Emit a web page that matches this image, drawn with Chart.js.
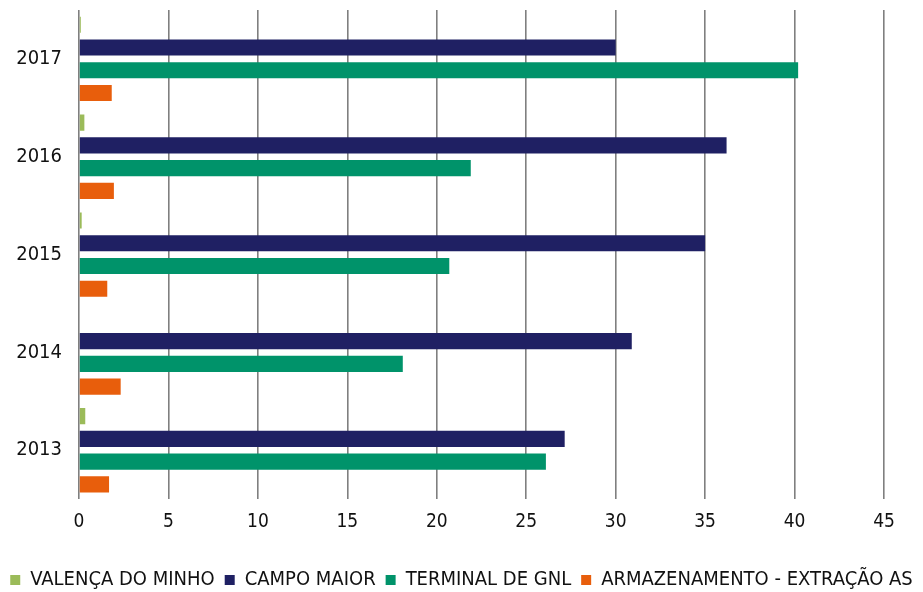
<!DOCTYPE html>
<html>
<head>
<meta charset="utf-8">
<script src="https://cdn.jsdelivr.net/npm/chart.js@4"></script>
<style>
  html, body { margin: 0; padding: 0; background: #fff; }
  #wrap { width: 923px; height: 592px; }
</style>
</head>
<body>
<div id="wrap"><canvas id="chart" width="923" height="592"></canvas></div>
<script>
// years, top to bottom as drawn
const years = ["2017", "2016", "2015", "2014", "2013"];

const valenca = [0.1, 0.3, 0.15, 0, 0.35];
const campoMaior = [30.0, 36.2, 35.0, 30.9, 27.15];
const terminalGnl = [40.2, 21.9, 20.7, 18.1, 26.1];
const armazenamento = [1.83, 1.95, 1.58, 2.33, 1.68];

const xTicks = [0, 5, 10, 15, 20, 25, 30, 35, 40, 45];

const FONT = "'DejaVu Sans Condensed', 'DejaVu Sans', sans-serif";

function ds(label, data, color) {
    return {
        label,
        data,
        backgroundColor: color,
        borderWidth: 0,
        barPercentage: 0.71,
        categoryPercentage: 0.93
    };
}

new Chart(document.getElementById("chart"), {
    type: "bar",
    data: {
        labels: years,
        datasets: [
            ds("VALENÇA DO MINHO", valenca, "#9bbb59"),
            ds("CAMPO MAIOR", campoMaior, "#1f2063"),
            ds("TERMINAL DE GNL", terminalGnl, "#00936a"),
            ds("ARMAZENAMENTO - EXTRAÇÃO AS", armazenamento, "#e85e0c")
        ]
    },
    options: {
        indexAxis: "y",
        responsive: false,
        animation: false,
        layout: { padding: { top: 10, right: 0, left: 0, bottom: -8 } },
        plugins: {
            tooltip: { enabled: false },
            legend: {
                position: "bottom",
                labels: {
                    boxWidth: 10,
                    boxHeight: 10,
                    padding: 10,
                    color: "#111",
                    font: { family: FONT, size: 20 }
                }
            }
        },
        scales: {
            x: {
                min: 0,
                max: 45,
                afterBuildTicks: axis => {
                    axis.ticks = xTicks.map(v => ({ value: v }));
                },
                afterFit: axis => {
                    axis.paddingRight = 39;
                    axis.height += 16;
                },
                grid: {
                    color: "#7f7f7f",
                    lineWidth: 1.6,
                    drawTicks: false
                },
                border: { display: false },
                ticks: {
                    padding: 11,
                    color: "#111",
                    font: { family: FONT, size: 19 }
                }
            },
            y: {
                afterFit: axis => {
                    axis.width = 79;
                    axis.paddingTop = 0;
                    axis.paddingBottom = 0;
                },
                grid: { display: false, drawTicks: false },
                border: { display: false },
                ticks: {
                    padding: 17,
                    color: "#111",
                    font: { family: FONT, size: 20 }
                }
            }
        }
    }
});
</script>
</body>
</html>
